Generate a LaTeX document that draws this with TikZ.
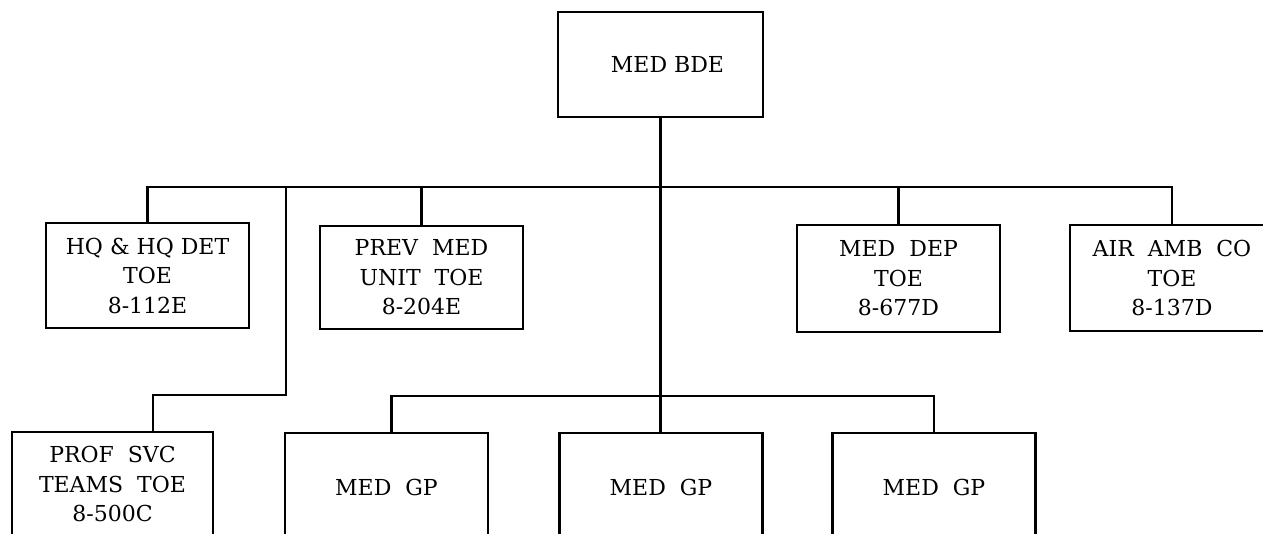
\documentclass[tikz,border=0pt]{standalone}
\usepackage{fontspec}
\setmainfont{DejaVu Serif}
\begin{document}
\begin{tikzpicture}[x=1pt,y=-1pt,
  unit/.style={draw, line width=2.7pt, line join=miter, align=center, inner sep=0pt,
    minimum width=203pt, font=\fontsize{22}{29.5}\selectfont},
  link/.style={line width=2.7pt, line join=miter}]
\useasboundingbox (0,0) rectangle (1263,534);
% top
\node[unit, minimum width=205pt, minimum height=105pt] (bde) at (660.5,64.5) {\hspace*{14pt}MED\ BDE};
% second row
\node[unit, minimum height=105pt] (hq) at (147.5,275.5) {HQ \& HQ DET\\TOE\\8-112E};
\node[unit, minimum height=103pt] (prev) at (421.5,277.5) {PREV\ \ MED\\UNIT\ \ TOE\\8-204E};
\node[unit, minimum height=107pt] (dep) at (898.5,278.5) {MED\ \ DEP\\TOE\\8-677D};
\node[unit, minimum width=204pt, minimum height=106pt] (air) at (1172,278) {AIR\ \ AMB\ \ CO\\TOE\\8-137D};
% third row
\node[unit, minimum width=201pt, minimum height=104pt] (prof) at (112.5,484) {PROF\ \ SVC\\TEAMS\ \ TOE\\8-500C};
\node[unit, minimum height=108pt] (gpa) at (386.5,487) {MED\ \ GP};
\node[unit, minimum height=108pt] (gpb) at (661,487) {MED\ \ GP};
\node[unit, minimum height=108pt] (gpc) at (934,487) {MED\ \ GP};
% buses
\coordinate (bus) at (0,187);
\coordinate (gpbus) at (0,396);
\coordinate (pj) at (286,187);
\coordinate (pk) at (286,395);
% connectors
\draw[link] (bde.south) -- (bde.south |- gpb.north);
\draw[link] (hq.north) -- (hq.north |- bus) -| (air.north);
\draw[link] (prev.north) -- (prev.north |- bus);
\draw[link] (dep.north) -- (dep.north |- bus);
\draw[link] (pj) -- (pk) -| ([xshift=40.5pt]prof.north);
\draw[link] ([xshift=5pt]gpa.north) -- ([xshift=5pt]gpa.north |- gpbus) -| (gpc.north);
\end{tikzpicture}
\end{document}
